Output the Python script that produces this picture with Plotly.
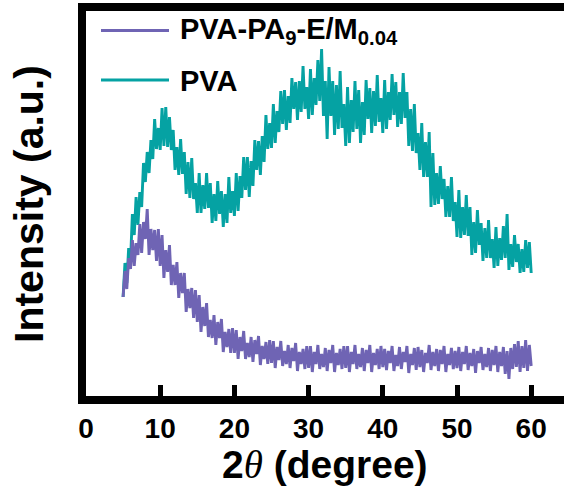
import plotly.graph_objects as go

# 2theta grid step (degrees) and start
theta_start = 5.0
theta_step = 0.25

# Intensities (a.u.), one value per 0.25 deg from 5 to 60 deg
pva = [
    99, 133, 113, 148, 134, 182, 161, 199, 171, 204, 189, 233, 214, 244, 223, 256,
    237, 277, 247, 268, 246, 288, 250, 289, 249, 279, 246, 266, 226, 249, 221, 257,
    222, 244, 202, 234, 198, 238, 197, 213, 183, 223, 183, 211, 187, 223, 188, 213,
    173, 202, 175, 215, 182, 205, 169, 202, 173, 219, 183, 205, 180, 223, 185, 220,
    198, 239, 206, 239, 199, 235, 210, 256, 226, 255, 221, 260, 234, 281, 247, 273,
    248, 292, 253, 285, 264, 305, 272, 306, 266, 300, 273, 318, 287, 314, 276, 315,
    284, 330, 287, 309, 277, 327, 281, 318, 291, 336, 295, 347, 280, 315, 257, 329,
    280, 315, 261, 311, 267, 325, 268, 292, 250, 309, 253, 296, 264, 315, 267, 306,
    253, 294, 261, 316, 277, 308, 263, 305, 270, 321, 274, 298, 263, 316, 267, 304,
    276, 322, 281, 314, 269, 304, 272, 323, 278, 304, 250, 287, 245, 292, 243, 263,
    226, 273, 219, 254, 219, 264, 189, 243, 191, 223, 192, 230, 197, 217, 179, 210,
    179, 219, 175, 194, 159, 206, 158, 189, 161, 201, 160, 189, 141, 174, 143, 186,
    151, 173, 135, 168, 138, 176, 138, 157, 128, 169, 130, 158, 136, 170, 138, 182,
    126, 152, 129, 161, 134, 152, 123, 147, 124, 156, 128, 154, 123,
]

pva_pa9 = [
    99, 125, 107, 138, 127, 156, 130, 153, 141, 172, 143, 174, 157, 187, 141, 167,
    146, 166, 135, 167, 130, 161, 118, 146, 124, 151, 111, 131, 111, 134, 98, 123,
    103, 123, 84, 107, 88, 108, 78, 106, 74, 101, 64, 89, 70, 93, 59, 76,
    58, 81, 51, 74, 58, 77, 44, 64, 49, 67, 43, 68, 43, 66, 37, 59,
    45, 65, 37, 53, 39, 59, 34, 56, 42, 60, 31, 50, 37, 54, 32, 56,
    33, 55, 28, 49, 36, 55, 30, 45, 32, 51, 28, 48, 35, 53, 25, 44,
    32, 47, 27, 50, 28, 50, 24, 44, 32, 51, 27, 42, 29, 48, 25, 46,
    33, 51, 24, 43, 31, 47, 27, 50, 28, 50, 24, 44, 32, 51, 27, 42,
    29, 48, 25, 46, 33, 51, 24, 43, 31, 47, 27, 50, 29, 47, 26, 45,
    33, 50, 25, 41, 30, 49, 27, 44, 34, 50, 23, 42, 31, 48, 26, 49,
    29, 46, 24, 43, 33, 51, 26, 44, 30, 47, 25, 46, 32, 50, 24, 42,
    31, 48, 27, 45, 28, 49, 25, 44, 32, 50, 26, 43, 30, 47, 23, 45,
    33, 49, 26, 42, 29, 48, 25, 46, 31, 50, 24, 44, 30, 49, 22, 45,
    17, 48, 27, 52, 29, 55, 24, 50, 28, 56, 25, 51, 30,
]

x_ticks = [0, 10, 20, 30, 40, 50, 60]

series_names = ["PVA-PA<sub>9</sub>-E/M<sub>0.04</sub>", "PVA"]
colors = {"pva": "#05A2A3", "pva_pa9": "#6F64B4"}

two_theta_pva = [theta_start + theta_step * i for i in range(len(pva))]
two_theta_pa9 = [theta_start + theta_step * i for i in range(len(pva_pa9))]

FONT = "Liberation Sans, Arial, sans-serif"

fig = go.Figure()
fig.add_trace(go.Scatter(x=two_theta_pva, y=pva, mode="lines",
                         line=dict(color=colors["pva"], width=2.9),
                         name="PVA", showlegend=False))
fig.add_trace(go.Scatter(x=two_theta_pa9, y=pva_pa9, mode="lines",
                         line=dict(color=colors["pva_pa9"], width=2.9),
                         name="PVA-PA9-E/M0.04", showlegend=False))

W, H = 564, 488
L, R, T, B = 86, 0, 11, 92
pw, ph = W - L - R, H - T - B

def px(xp):
    return (xp - L) / pw

def py(yp):
    return (H - B - yp) / ph

# custom legend
legend_items = [(series_names[0], colors["pva_pa9"], 30.5, 31),
                (series_names[1], colors["pva"], 80, 81)]
shapes = []
annotations = []
for name, col, ly, ty in legend_items:
    shapes.append(dict(type="line", xref="paper", yref="paper",
                       x0=px(101), x1=px(169), y0=py(ly), y1=py(ly),
                       line=dict(color=col, width=3)))
    annotations.append(dict(text="<b>" + name + "</b>", xref="paper", yref="paper",
                            x=px(178), y=py(ty), xanchor="left", yanchor="middle",
                            showarrow=False, font=dict(family=FONT, size=29, color="black")))

annotations.append(dict(
    text="<b>2</b><span style='font-family:Liberation Serif'><i>θ</i></span><b> (degree)</b>",
    xref="paper", yref="paper", x=px(325), y=py(464), xanchor="center", yanchor="middle",
    showarrow=False, font=dict(family=FONT, size=39, color="black")))
annotations.append(dict(
    text="<b>Intensity (a.u.)</b>", textangle=-90,
    xref="paper", yref="paper", x=px(29), y=py(204), xanchor="center", yanchor="middle",
    showarrow=False, font=dict(family=FONT, size=41, color="black")))

fig.update_layout(
    width=W, height=H,
    margin=dict(l=L, r=R, t=T, b=B, pad=0),
    paper_bgcolor="white", plot_bgcolor="white",
    showlegend=False,
    shapes=shapes, annotations=annotations,
    xaxis=dict(range=[0, pw / 7.42], tickvals=x_ticks,
               ticktext=["<b>%d</b>" % v for v in x_ticks],
               showgrid=False, zeroline=False, showline=True, linewidth=8, linecolor="black",
               mirror=True, ticks="inside", ticklen=11, tickwidth=5, tickcolor="black",
               tickfont=dict(family=FONT, size=28, color="black"),
               ticklabelstandoff=0),
    yaxis=dict(range=[0, 385], showticklabels=False, showgrid=False, zeroline=False,
               showline=True, linewidth=8, linecolor="black", mirror=False, ticks=""),
)

fig.write_html("out.html")
